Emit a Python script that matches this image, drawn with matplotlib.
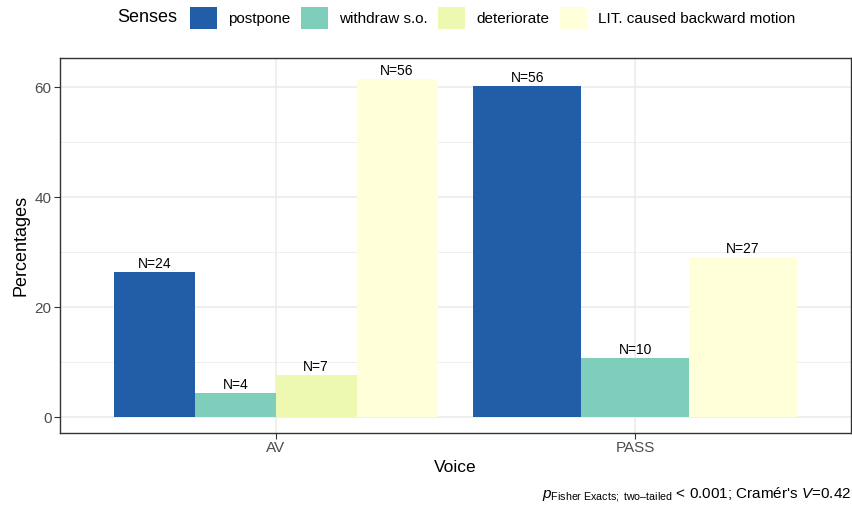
import matplotlib
matplotlib.use("Agg")
import matplotlib.pyplot as plt
from matplotlib.patches import Patch
from matplotlib.ticker import MultipleLocator

plt.rcParams['font.family'] = ['Liberation Sans', 'DejaVu Sans']
plt.rcParams['mathtext.fontset'] = 'custom'
plt.rcParams['mathtext.rm'] = 'Liberation Sans'
plt.rcParams['mathtext.it'] = 'Liberation Sans:italic'

voices = ["AV", "PASS"]
senses = ["postpone", "withdraw s.o.", "deteriorate", "LIT. caused backward motion"]
colors = ["#225EA8", "#7FCDBB", "#EDF8B1", "#FFFFD9"]
# counts per voice (None = sense absent in that voice)
counts = {
    "AV":   [24, 4, 7, 56],
    "PASS": [56, 10, None, 27],
}

fig = plt.figure(figsize=(8.52, 5.08), dpi=100)
ax = fig.add_axes([60/852, 1-433/508, 791/852, 375/508])

dodge_width = 0.9
for gi, v in enumerate(voices):
    vals = counts[v]
    present = [(si, c) for si, c in enumerate(vals) if c is not None]
    total = sum(c for _, c in present)
    n = len(present)
    w = dodge_width / n
    for k, (si, c) in enumerate(present):
        x = gi + 1 - dodge_width/2 + w*(k + 0.5)
        pct = 100 * c / total
        ax.bar(x, pct, width=w, color=colors[si], linewidth=0, zorder=2)
        ax.text(x, pct + 0.2, f"N={c}", ha="center", va="bottom",
                fontsize=10, color="black", zorder=3)

ax.set_xlim(0.4, 2.6)
ax.set_ylim(-2.9, 65.3)
ax.set_xticks([1, 2])
ax.set_xticklabels(voices)
ax.yaxis.set_major_locator(MultipleLocator(20))
ax.yaxis.set_minor_locator(MultipleLocator(10))
ax.grid(which="major", color="#EBEBEB", linewidth=1.1, zorder=0)
ax.grid(which="minor", axis="y", color="#EBEBEB", linewidth=0.55, zorder=0)
ax.set_axisbelow(True)
ax.tick_params(axis="both", which="major", length=4, width=0.8, color="#333333",
               labelsize=11, labelcolor="#4D4D4D", pad=2)
ax.tick_params(axis="y", which="minor", length=0)
for s in ax.spines.values():
    s.set_color("#333333")
    s.set_linewidth(1.0)
ax.set_xlabel("Voice", fontsize=12.5, labelpad=3)
ax.set_ylabel("Percentages", fontsize=13, labelpad=4)

handles = [Patch(facecolor=c, edgecolor="none") for c in colors]
fig.text(117/852, 1-18/508, "Senses", fontsize=13, va="center", ha="left")
leg = fig.legend(handles, senses, loc="center left", bbox_to_anchor=(190/852, 1-18/508),
                 ncol=4, frameon=False, fontsize=11, handlelength=1.77, handleheight=1.83,
                 handletextpad=0.72, columnspacing=0.7, borderaxespad=0, borderpad=0)

fig.text(851/852, 1-494/508,
         r"$\it{p}_{\mathrm{Fisher\ Exacts;\ two–tailed}}$ < 0.001; Cramér's $\it{V}$=0.42",
         ha="right", va="center", fontsize=11)

fig.savefig("out.png", dpi=100)
